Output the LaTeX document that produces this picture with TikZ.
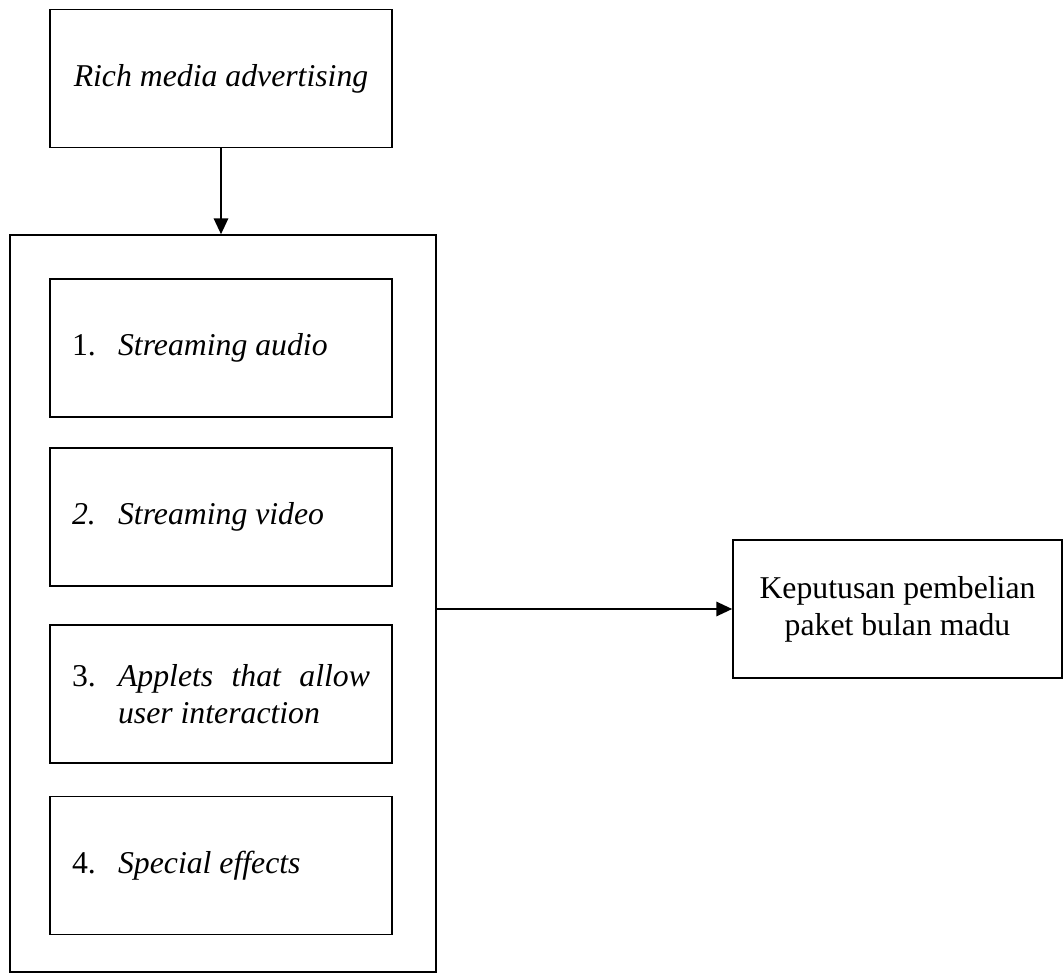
\documentclass[tikz,border=0pt]{standalone}
\usepackage{fontspec}
\setmainfont{Liberation Serif}
\usetikzlibrary{positioning,arrows.meta}

\newcommand{\compitem}[2]{\makebox[17.4pt][l]{#1}\parbox[t]{95.2pt}{#2}}

\begin{document}
\begin{tikzpicture}[x=0.378pt, y=-0.378pt,
    font=\fontsize{12pt}{14pt}\selectfont,
    line width=0.6pt,
    box/.style={draw, minimum width=129.3pt, minimum height=52.2pt, inner sep=0pt, align=center},
    item/.style={draw, minimum width=129.3pt, inner xsep=8.35pt, inner ysep=0pt, minimum height=52.2pt},
    arr/.style={-{Triangle[length=6pt,width=5.5pt]}}]
    \useasboundingbox (0,0) rectangle (1063,974);

    % Input
    \node[box] (rich) at (221,78.5) {\textit{Rich media advertising}};

    % Components
    \node[draw, minimum width=161pt, minimum height=278.6pt, inner sep=0pt] (group) at (223,603.5) {};
    \node[item] (audio) at (221,348) {\compitem{1.}{\textit{Streaming audio}}};
    \node[item] (video) at (221,517) {\compitem{\textit{2.}}{\textit{Streaming video}}};
    \node[item] (applets) at (221,694) {\compitem{3.}{\textit{Applets that allow user interaction}}};
    \node[item] (effects) at (221,865.5) {\compitem{4.}{\textit{Special effects}}};

    % Output
    \node[box, minimum width=124.4pt] (keputusan) at (897.5,609) {Keputusan pembelian\\paket bulan madu};

    \draw[arr] (rich.south) -- (rich.south |- group.north);
    \draw[arr] (group.east |- keputusan.west) -- (keputusan.west);
\end{tikzpicture}
\end{document}
